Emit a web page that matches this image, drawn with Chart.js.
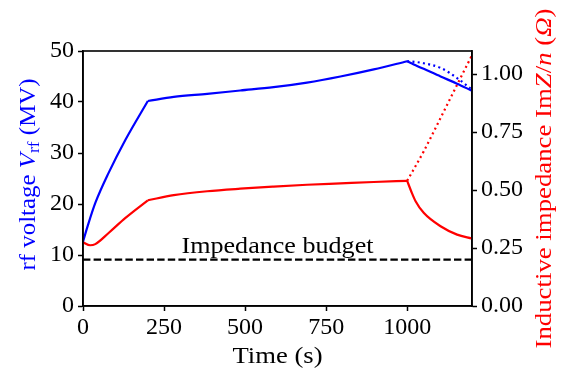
<!DOCTYPE html>
<html><head><meta charset="utf-8">
<script src="https://cdn.jsdelivr.net/npm/chart.js@4"></script>
<style>html,body{margin:0;padding:0;background:#fff}#wrap{width:561px;height:374px;position:relative}</style>
</head><body><div id="wrap"><canvas id="c"></canvas></div>
<script>
// ---- data ----
const rampTime = [0, 15, 38, 79, 131, 200];
const rampVoltage = [12.6, 15.8, 20.2, 26.1, 32.6, 40.2];
const rampImpTime = [0, 22, 38, 79, 131, 200];
const rampImpedance = [0.275, 0.262, 0.267, 0.315, 0.380, 0.456];

const flatTime = [200, 280, 383, 485, 588, 691, 794, 897, 1000];
const flatVoltage = [40.2, 41.0, 41.6, 42.25, 42.9, 43.8, 45.0, 46.4, 48.0];
const flatImpedance = [0.456, 0.478, 0.495, 0.506, 0.515, 0.523, 0.529, 0.535, 0.540];

const endTime = [1000, 1013, 1026, 1051, 1103, 1154, 1200];
const endVoltageSolid = [48.0, 47.6, 47.2, 46.5, 45.0, 43.6, 42.2];
const endVoltageDotted = [48.0, 47.95, 47.85, 47.6, 46.7, 44.7, 42.4];
const endImpedanceSolid = [0.540, 0.493, 0.452, 0.402, 0.344, 0.308, 0.291];
const endImpedanceDotted = [0.540, 0.572, 0.604, 0.667, 0.811, 0.954, 1.082];

const budgetTime = [0, 1200];
const budgetImpedance = [0.2, 0.2];
const budgetLabel = 'Impedance budget';
const budgetLabelPos = [600, 0.2];

const xTicks = [0, 250, 500, 750, 1000];
const yTicks = [0, 10, 20, 30, 40, 50];
const y2Ticks = [0, 0.25, 0.5, 0.75, 1.0];

// ---- helpers ----
const SERIF = '"Liberation Serif", "DejaVu Serif", serif';
const BLUE = '#0000ff', RED = '#ff0000';
const pts = (xs, ys) => xs.map((x, i) => ({x, y: ys[i]}));
function ds(xs, ys, color, axis, dash, cubic) {
  return {data: pts(xs, ys), borderColor: color, borderWidth: 2.2, pointRadius: 0,
    yAxisID: axis, borderDash: dash || [], fill: false,
    cubicInterpolationMode: cubic === false ? 'default' : 'monotone', tension: 0};
}
// draw mixed-style text runs centred at (cx, cy), stretched to a target width
function drawRuns(ctx, runs, cx, cy, angle, color, target) {
  ctx.save(); ctx.translate(cx, cy); ctx.rotate(angle);
  ctx.fillStyle = color; ctx.textBaseline = 'alphabetic'; ctx.textAlign = 'left';
  let total = 0;
  runs.forEach(r => { ctx.font = r.font; r.w = ctx.measureText(r.text).width; total += r.w; });
  if (target) ctx.scale(target / total, 1);
  let x = -total / 2;
  runs.forEach(r => { ctx.font = r.font; ctx.fillText(r.text, x, r.dy || 0); x += r.w; });
  ctx.restore();
}

const FS = 24;
const deco = {
  id: 'deco',
  afterDraw(chart) {
    const {ctx, chartArea: a, scales} = chart;
    ctx.save();
    ctx.strokeStyle = '#000'; ctx.lineWidth = 1.6;
    ctx.strokeRect(a.left, a.top, a.right - a.left, a.bottom - a.top);
    ctx.restore();
    const n = FS + 'px ' + SERIF, it = 'italic ' + FS + 'px ' + SERIF, sm = Math.round(FS * 0.7) + 'px ' + SERIF;
    drawRuns(ctx, [{text: budgetLabel, font: n}],
      scales.x.getPixelForValue(budgetLabelPos[0]), scales.y2.getPixelForValue(budgetLabelPos[1]) - 7, 0, '#000', 192);
    drawRuns(ctx, [{text: 'Time (s)', font: n}], (a.left + a.right) / 2, 363, 0, '#000', 90);
    const cy = (a.top + a.bottom) / 2;
    drawRuns(ctx, [
      {text: 'rf voltage ', font: n}, {text: 'V', font: it}, {text: 'rf', font: sm, dy: 4},
      {text: ' (MV)', font: n}], 35, cy - 4, -Math.PI / 2, BLUE, 192);
    drawRuns(ctx, [
      {text: 'Inductive impedance Im', font: n}, {text: 'Z', font: it}, {text: '/', font: n},
      {text: 'n', font: it}, {text: ' (', font: n}, {text: 'Ω', font: it}, {text: ')', font: n}],
      551, cy, -Math.PI / 2, RED, 340);
  }
};

const tickFont = {family: SERIF, size: FS};
const gridOpts = {drawOnChartArea: false, drawTicks: true, tickLength: 5, tickWidth: 1.5, tickColor: '#000'};
const borderOpts = {display: true, color: '#000', width: 1.6};

new Chart(document.getElementById('c'), {
  type: 'line',
  data: {datasets: [
    ds(budgetTime, budgetImpedance, '#000', 'y2', [7.4, 3.2], false),
    ds(rampTime, rampVoltage, BLUE, 'y'),
    ds(flatTime, flatVoltage, BLUE, 'y'),
    ds(endTime, endVoltageSolid, BLUE, 'y'),
    ds(endTime, endVoltageDotted, BLUE, 'y', [2, 3.3]),
    ds(rampImpTime, rampImpedance, RED, 'y2'),
    ds(flatTime, flatImpedance, RED, 'y2'),
    ds(endTime, endImpedanceSolid, RED, 'y2'),
    ds(endTime, endImpedanceDotted, RED, 'y2', [2, 3.3]),
  ]},
  options: {
    responsive: true, maintainAspectRatio: false, animation: false,
    layout: {padding: {left: 0, right: 0, top: 51, bottom: 0}},
    plugins: {legend: {display: false}, tooltip: {enabled: false}},
    scales: {
      x: {type: 'linear', min: 0, max: 1200, grid: gridOpts, border: borderOpts,
        afterFit: s => { s.height = 68; },
        afterBuildTicks: s => { s.ticks = xTicks.map(v => ({value: v})); },
        ticks: {font: tickFont, color: '#000', padding: 2, maxRotation: 0, autoSkip: false, callback: v => String(v)}},
      y: {position: 'left', min: 0, max: 50, grid: gridOpts, border: borderOpts,
        afterFit: s => { s.width = 83; },
        afterBuildTicks: s => { s.ticks = yTicks.map(v => ({value: v})); },
        ticks: {font: tickFont, color: '#000', padding: 4, callback: v => String(v)}},
      y2: {position: 'right', min: 0, max: 1.1, grid: gridOpts, border: borderOpts,
        afterFit: s => { s.width = 89; },
        afterBuildTicks: s => { s.ticks = y2Ticks.map(v => ({value: v})); },
        ticks: {font: tickFont, color: '#000', padding: 4, callback: v => Number(v).toFixed(2)}}
    }
  },
  plugins: [deco]
});
</script></body></html>
